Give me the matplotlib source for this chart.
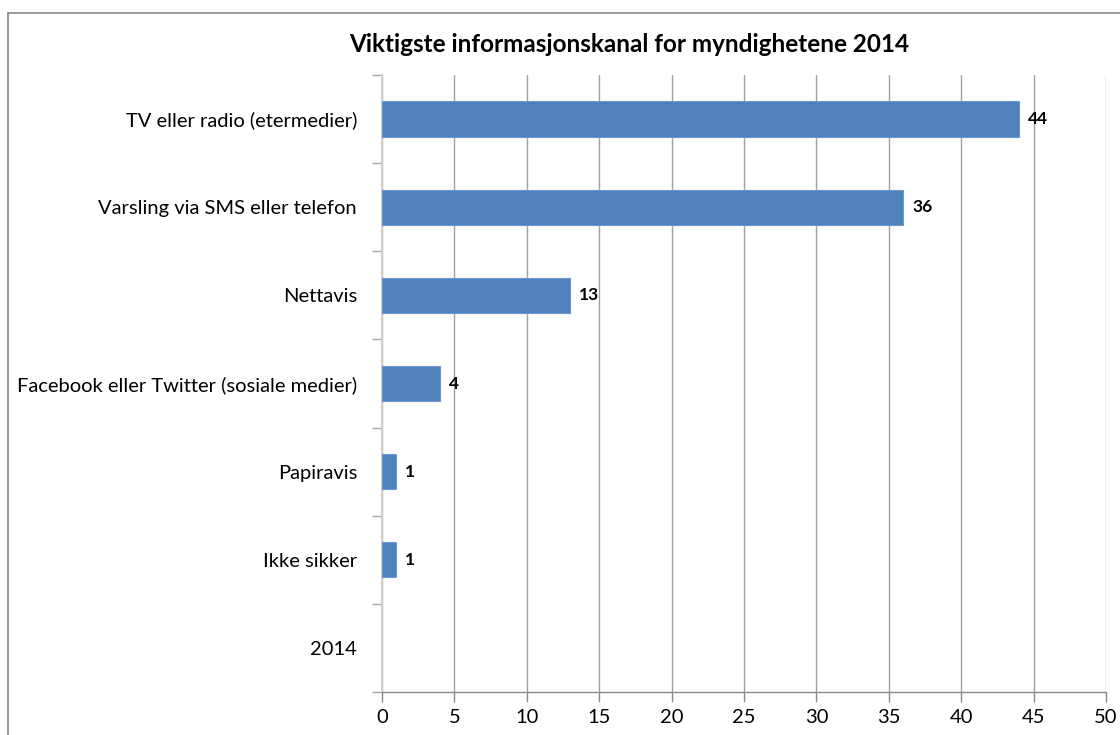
import matplotlib.pyplot as plt
import numpy as np

# Data (top to bottom)
categories = [
    'TV eller radio (etermedier)',
    'Varsling via SMS eller telefon',
    'Nettavis',
    'Facebook eller Twitter (sosiale medier)',
    'Papiravis',
    'Ikke sikker',
    '2014',
]
values = [44, 36, 13, 4, 1, 1]
x_ticks = [0, 5, 10, 15, 20, 25, 30, 35, 40, 45, 50]

plt.rcParams['font.family'] = ['Lato', 'DejaVu Sans']

fig = plt.figure(figsize=(11.2, 7.35), dpi=100)
ax = fig.add_axes([382 / 1120, 1 - 692 / 735, 724 / 1120, 617 / 735])

n = len(categories)
pos = np.arange(n)
ax.barh(pos[:len(values)], values, height=0.4, color='#4F81BD',
        edgecolor='#6D97CC', linewidth=0.8, zorder=3)

for p, v in zip(pos, values):
    ax.text(v + 0.6, p, str(v), va='center', ha='left',
            fontsize=12.5, fontweight='bold', color='black', zorder=4)

ax.set_xlim(0, 50)
ax.set_ylim(n - 0.5, -0.5)
ax.set_xticks(x_ticks)
ax.set_xticklabels([str(t) for t in x_ticks], fontsize=14.5)
ax.set_yticks(pos)
ax.set_yticklabels(categories, fontsize=14.5)
ax.set_yticks(np.arange(n + 1) - 0.5, minor=True)

ax.tick_params(axis='y', which='major', length=0, pad=18)
ax.tick_params(axis='y', which='minor', length=7, color='#A6A6A6', width=1)
ax.tick_params(axis='x', which='major', length=7, color='#898989', width=1, pad=5)

ax.grid(axis='x', color='#A0A0A0', linewidth=1, zorder=0)
for side in ['top', 'right']:
    ax.spines[side].set_visible(False)
ax.spines['left'].set_color('#D0D0D0')
ax.spines['left'].set_linewidth(1.5)
ax.spines['bottom'].set_color('#898989')
ax.spines['bottom'].set_linewidth(1)

fig.text(629 / 1120, 1 - 45 / 735, 'Viktigste informasjonskanal for myndighetene 2014',
         ha='center', va='center', fontsize=17.5, fontweight='bold')

# outer chart border (extends beyond the image on right and bottom)
fig.add_artist(plt.Line2D([8 / 1120, 1.0], [1 - 13 / 735, 1 - 13 / 735],
                          color='#888888', linewidth=1.2))
fig.add_artist(plt.Line2D([8 / 1120, 8 / 1120], [0, 1 - 13 / 735],
                          color='#888888', linewidth=1.2))

fig.savefig('out.png', dpi=100)
